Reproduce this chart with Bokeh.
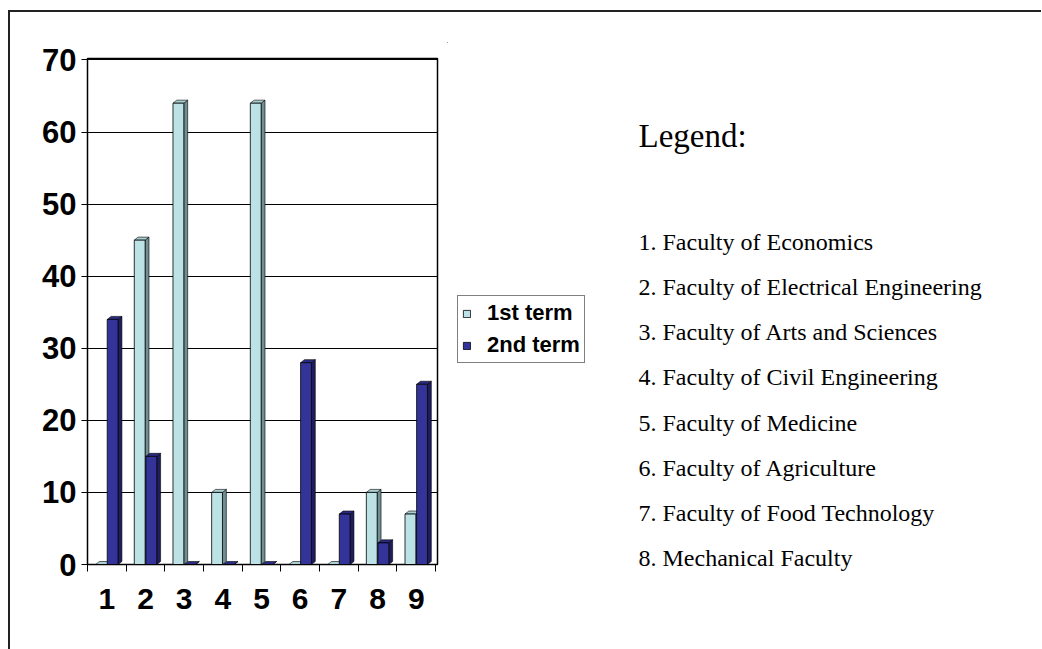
from bokeh.plotting import figure
from bokeh.models import Range1d, FixedTicker, Legend, LegendItem, ColumnDataSource, LabelSet
from bokeh.layouts import row
from bokeh.embed import file_html
from bokeh.resources import INLINE
from bokeh.core.properties import value

# ---- data ----
categories = ["1", "2", "3", "4", "5", "6", "7", "8", "9"]
term1 = [0, 45, 64, 10, 64, 0, 0, 10, 7]
term2 = [34, 15, 0, 0, 0, 28, 7, 3, 25]
series_names = ["1st term", "2nd term"]
y_ticks = [0, 10, 20, 30, 40, 50, 60, 70]
legend_title = "Legend:"
faculties = [
    "1. Faculty of Economics",
    "2. Faculty of Electrical Engineering",
    "3. Faculty of Arts and Sciences",
    "4. Faculty of Civil Engineering",
    "5. Faculty of Medicine",
    "6. Faculty of Agriculture",
    "7. Faculty of Food Technology",
    "8. Mechanical Faculty",
]

# ---- styles ----
front_colors = ["#BCE2E6", "#333399"]
side_colors = ["#6E9093", "#1E1E5E"]
top_colors = ["#A9CFD3", "#2B2B85"]
offsets = [-0.15, 0.15]
bar_w = 0.28
dx, dy = 0.10, 0.42  # 3D depth in data units

X0, Y0 = 10, 12          # page position of the layout content (inside the frame lines)
H = 637
TOP, BOT = 46, 85        # chart frame: page y 58 .. 564
W1 = 437
W2 = 594
TOP2, BOT2 = 30, 30      # text panel frame

p = figure(width=W1, height=H, x_range=Range1d(0.5, 9.55), y_range=Range1d(0, 70.2),
           output_backend="svg", toolbar_location=None,
           min_border_left=77, min_border_top=TOP, min_border_bottom=BOT, min_border_right=10)
p.background_fill_color = "white"
p.border_fill_color = "white"
p.outline_line_color = "black"
p.outline_line_width = 1.5

p.xgrid.visible = False
p.ygrid.grid_line_color = "black"
p.ygrid.grid_line_width = 1
p.ygrid.ticker = FixedTicker(ticks=y_ticks)

p.yaxis.ticker = FixedTicker(ticks=y_ticks)
p.yaxis.major_label_text_font = "Liberation Sans"
p.yaxis.major_label_text_font_style = "bold"
p.yaxis.major_label_text_font_size = "31px"
p.yaxis.major_label_text_color = "black"
p.yaxis.major_tick_out = 6
p.yaxis.major_tick_in = 0
p.yaxis.minor_tick_out = 0
p.yaxis.minor_tick_in = 0
p.yaxis.major_label_standoff = 5
p.yaxis.axis_line_color = "black"

xs_ticks = [i + 1 for i in range(len(categories))]
p.xaxis.ticker = FixedTicker(ticks=xs_ticks, minor_ticks=[i + 0.5 for i in range(len(categories) + 1)])
p.xaxis.major_label_overrides = {x: c for x, c in zip(xs_ticks, categories)}
p.xaxis.major_label_text_font = "Liberation Sans"
p.xaxis.major_label_text_font_style = "bold"
p.xaxis.major_label_text_font_size = "30px"
p.xaxis.major_label_text_color = "black"
p.xaxis.major_tick_out = 0
p.xaxis.major_tick_in = 0
p.xaxis.minor_tick_out = 7
p.xaxis.minor_tick_in = 0
p.xaxis.minor_tick_line_color = "black"
p.xaxis.major_label_standoff = 17
p.xaxis.axis_line_color = "black"

for s, vals in enumerate([term1, term2]):
    xc = [i + 1 + offsets[s] for i in range(len(vals))]
    side_xs, side_ys, top_xs, top_ys = [], [], [], []
    for x, v in zip(xc, vals):
        xr = x + bar_w / 2
        xl = x - bar_w / 2
        side_xs.append([xr, xr + dx, xr + dx, xr])
        side_ys.append([0, dy, v + dy, v])
        top_xs.append([xl, xl + dx, xr + dx, xr])
        top_ys.append([v, v + dy, v + dy, v])
    p.patches(side_xs, side_ys, fill_color=side_colors[s], line_color="black", line_width=0.6)
    p.patches(top_xs, top_ys, fill_color=top_colors[s], line_color="black", line_width=0.6)
    p.vbar(x=xc, top=vals, bottom=0, width=bar_w, fill_color=front_colors[s],
           line_color="black", line_width=0.8)

# ---- right panel: series legend + faculty legend (page-pixel data coords) ----
p2 = figure(width=W2, height=H, x_range=Range1d(X0 + W1, X0 + W1 + W2),
            y_range=Range1d(Y0 + H - BOT2, Y0 + TOP2),
            output_backend="svg", toolbar_location=None,
            min_border_left=0, min_border_right=0, min_border_top=TOP2, min_border_bottom=BOT2,
            x_axis_location=None, y_axis_location=None)
p2.frame_align = False
p2.grid.visible = False
p2.outline_line_color = None
p2.background_fill_color = "white"
p2.border_fill_color = "white"

legend_renderers = []
for s in range(len(series_names)):
    # far off-screen sample bar, only used for the legend swatch
    r = p2.vbar(x=[-100000], top=[-100000], bottom=[-100001], width=1, fill_color=front_colors[s],
                line_color="black", line_width=0.8)
    legend_renderers.append(r)

frame_bottom2 = Y0 + H - BOT2
legend = Legend(items=[LegendItem(label=n, renderers=[r]) for n, r in zip(series_names, legend_renderers)],
                location=(457 - (X0 + W1), frame_bottom2 - 363), orientation="vertical")
legend.margin = 0
legend.padding = 4
legend.spacing = 6
legend.glyph_width = 9
legend.glyph_height = 9
legend.label_height = 20
legend.label_standoff = 16
legend.label_text_font = "Liberation Sans"
legend.label_text_font_style = "bold"
legend.label_text_font_size = "22px"
legend.label_text_color = "black"
legend.border_line_color = "black"
legend.border_line_width = 1
legend.background_fill_color = "white"
legend.background_fill_alpha = 1
p2.add_layout(legend, "center")

p2.text(x=[638], y=[135], text=[legend_title], text_font=value("Liberation Serif"),
        text_font_size="33px", text_baseline="alphabetic", text_color="black")

first, step = 249.3, 45.2
src = ColumnDataSource(dict(x=[638] * len(faculties),
                            y=[first + i * step for i in range(len(faculties))],
                            text=faculties))
p2.add_layout(LabelSet(x="x", y="y", text="text", source=src,
                       text_font=value("Liberation Serif"), text_font_size="24px",
                       text_baseline="alphabetic", text_color="black"))

layout = row(p, p2, margin=(Y0 - 2, 0, 0, X0 - 2),
             styles={"border-top": "2px solid #222", "border-left": "2px solid #222"})

open("out.html", "w").write(file_html(layout, INLINE))
